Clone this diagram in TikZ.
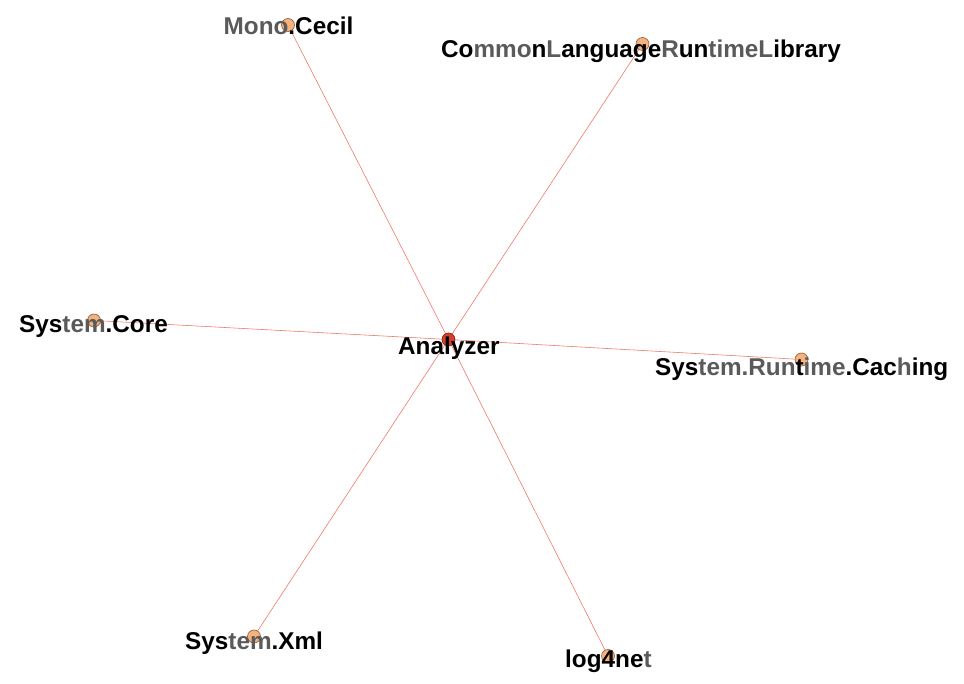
\documentclass[tikz,border=0pt]{standalone}
\usepackage{fontspec}
\setmainfont{Liberation Sans}
\usetikzlibrary{backgrounds}
\definecolor{edgecol}{HTML}{F07060}
\definecolor{depfill}{HTML}{F6B27C}
\definecolor{depdraw}{HTML}{8A5A3A}
\definecolor{hubfill}{HTML}{D8402A}
\definecolor{hubdraw}{HTML}{7A2010}
\definecolor{gl}{HTML}{5A5A5A}
\newcommand{\g}[1]{\textcolor{gl}{#1}}
\tikzset{
  vertex/.style={circle, draw=depdraw, fill=depfill, line width=0.6pt, minimum size=13pt, inner sep=0pt},
  hub/.style={circle, draw=hubdraw, fill=hubfill, line width=0.6pt, minimum size=13pt, inner sep=0pt},
  lab/.style={anchor=base west, inner sep=0pt, font=\fontsize{24.3}{29}\selectfont\bfseries, text=black},
  edge/.style={draw=edgecol, line width=0.55pt}
}
\begin{document}
\begin{tikzpicture}[x=1pt,y=-1pt]
\useasboundingbox (0,0) rectangle (964,684);
\node[hub] (an) at (448.5,339.5) {};
\node[vertex] (mc) at (288,25) {};
\node[vertex] (cl) at (642.5,44) {};
\node[vertex] (rc) at (801.5,359.5) {};
\node[vertex] (sc) at (94,320.5) {};
\node[vertex] (sx) at (254,636.5) {};
\node[vertex] (ln) at (608,656) {};
\begin{scope}[on background layer]
\draw[edge] (an.center) -- (mc.center);
\draw[edge] (an.center) -- (cl.center);
\draw[edge] (an.center) -- (rc.center);
\draw[edge] (an.center) -- (sc.center);
\draw[edge] (an.center) -- (sx.center);
\draw[edge] (an.center) -- (ln.center);
\end{scope}
\node[lab] (tan) at (398,355) {Analyzer};
\node[lab] (tmc) at (223.5,35) {\g{Mono}.Cecil};
\node[lab] (tcl) at (441,58) {Co\g{mmo}n\g{L}anguage\g{R}un\g{time}\g{L}ibrary};
\node[lab] (trc) at (655,376) {Sys\g{tem.Run}t\g{ime}.Cac\g{h}ing};
\node[lab] (tsc) at (19,333) {Sys\g{tem}.Core};
\node[lab] (tsx) at (185,649) {Sys\g{tem}.Xml};
\node[lab] (tln) at (565,667) {log4ne\g{t}};
\end{tikzpicture}
\end{document}
